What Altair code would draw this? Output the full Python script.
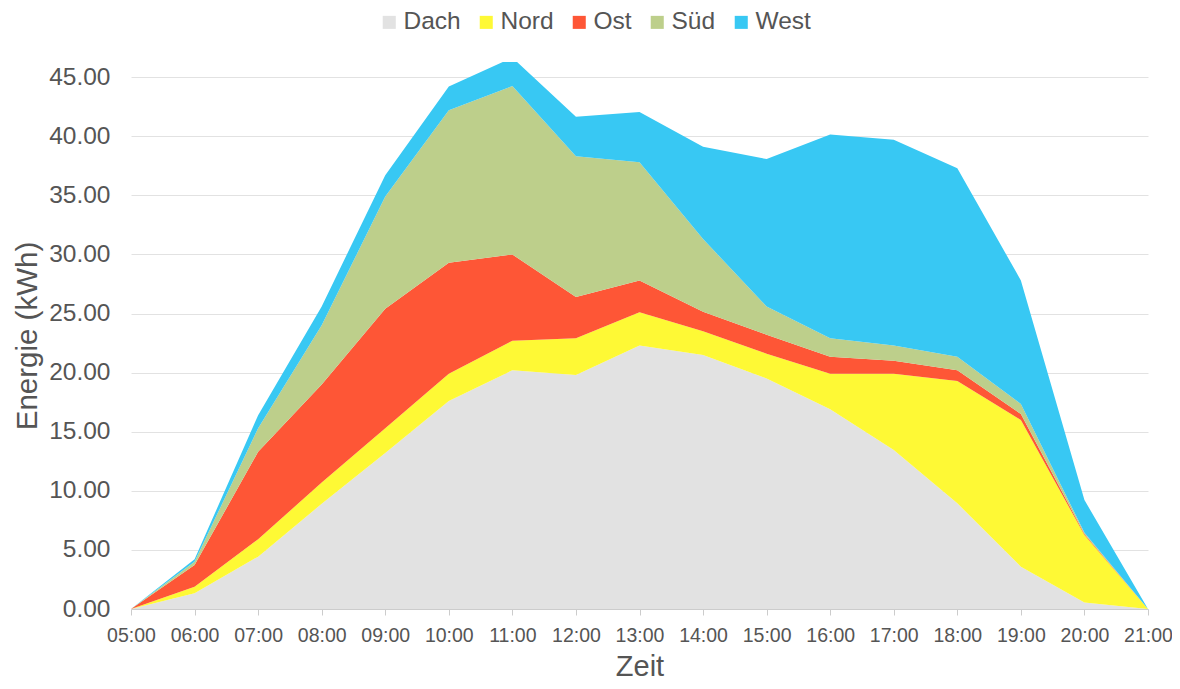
import altair as alt
import pandas as pd

hours = ["05:00", "06:00", "07:00", "08:00", "09:00", "10:00", "11:00", "12:00",
         "13:00", "14:00", "15:00", "16:00", "17:00", "18:00", "19:00", "20:00", "21:00"]
series = ["Dach", "Nord", "Ost", "Süd", "West"]
colors = ["#e2e2e2", "#fef935", "#fe5636", "#bdcf8b", "#38c8f3"]

dach = [0, 1.33, 4.43, 8.9, 13.2, 17.6, 20.2, 19.8, 22.3, 21.5, 19.5, 16.9, 13.45, 8.94, 3.58, 0.54, 0]
nord = [0, 0.56, 1.47, 1.8, 2.1, 2.3, 2.5, 3.1, 2.8, 2.0, 2.1, 3.0, 6.45, 10.36, 12.42, 5.72, 0]
ost = [0, 1.83, 7.4, 8.3, 10.1, 9.4, 7.3, 3.5, 2.7, 1.65, 1.6, 1.45, 1.1, 0.9, 0.5, 0.09, 0]
sued = [0, 0.28, 2.0, 5.0, 9.5, 12.9, 14.25, 11.9, 10.0, 6.15, 2.4, 1.55, 1.3, 1.15, 0.85, 0.1, 0]
west = [0, 0.2, 1.1, 1.6, 1.8, 2.0, 2.4, 3.35, 4.25, 7.8, 12.47, 17.25, 17.4, 15.95, 10.45, 2.77, 0]

values = [dach, nord, ost, sued, west]
rows = []
for idx, (name, vals) in enumerate(zip(series, values)):
    for h, v in zip(hours, vals):
        rows.append({"Zeit": h, "Serie": name, "idx": idx, "Energie": v})
df = pd.DataFrame(rows)

FONT = "Liberation Sans"
TXT = "#555555"

chart = (
    alt.Chart(df)
    .transform_stack(
        stack="Energie",
        groupby=["Zeit"],
        as_=["y0", "y1"],
        sort=[alt.SortField("idx", order="ascending")],
    )
    .mark_area(clip=True, opacity=1)
    .encode(
        x=alt.X(
            "Zeit:O",
            sort=hours,
            scale=alt.Scale(type="point", padding=0),
            axis=alt.Axis(
                title="Zeit",
                labelAngle=0,
                labelFontSize=19.5,
                labelColor=TXT,
                labelPadding=11,
                labelFont=FONT,
                labelOverlap=False,
                ticks=True,
                tickSize=6,
                tickColor="#cccccc",
                domainColor="#cccccc",
                grid=False,
                titleFontSize=29,
                titleFontWeight="normal",
                titleColor=TXT,
                titleFont=FONT,
                titlePadding=8,
            ),
        ),
        y=alt.Y(
            "y0:Q",
            scale=alt.Scale(domain=[0, 46.28], nice=False, zero=True),
            axis=alt.Axis(
                title="Energie (kWh)",
                values=[0, 5, 10, 15, 20, 25, 30, 35, 40, 45],
                format=".2f",
                labelFontSize=24.5,
                labelColor=TXT,
                labelFont=FONT,
                labelPadding=21,
                ticks=False,
                domain=False,
                grid=True,
                gridColor="#e2e2e2",
                gridWidth=1,
                titleFontSize=29.5,
                titleFontWeight="normal",
                titleColor=TXT,
                titleFont=FONT,
                titlePadding=6,
            ),
        ),
        y2="y1:Q",
        color=alt.Color(
            "Serie:N",
            scale=alt.Scale(domain=series, range=colors),
            legend=alt.Legend(
                title=None,
                orient="none",
                direction="horizontal",
                legendX=246,
                legendY=-52,
                symbolType="square",
                symbolSize=170,
                symbolStrokeWidth=0,
                labelFontSize=24.5,
                labelColor=TXT,
                labelFont=FONT,
                labelOffset=2,
                columnPadding=13,
            ),
        ),
    )
    .properties(
        width=1017,
        height=547,
        autosize=alt.AutoSizeParams(type="none"),
        padding={"left": 123, "top": 54, "right": 24, "bottom": 72},
    )
    .configure_view(stroke=None)
)

chart.save("out.html", embed_options={"renderer": "svg", "actions": False})
